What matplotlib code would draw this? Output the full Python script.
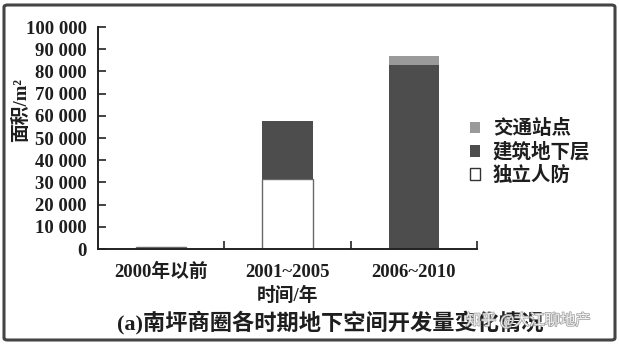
import matplotlib
matplotlib.use("Agg")
import matplotlib.pyplot as plt
import matplotlib.patheffects as pe
from matplotlib.patches import FancyBboxPatch, Patch
import numpy as np

# data (m^2)
periods = ["2000年以前", "2001~2005", "2006~2010"]
civil_defense = [800, 31500, 0]        # 独立人防
building_basement = [0, 26200, 83000]  # 建筑地下层
transit_station = [0, 0, 4000]         # 交通站点
yticks = list(range(0, 100001, 10000))
ytick_labels = ["0" if v == 0 else f"{v // 1000} 000" for v in yticks]

FONT = ["Liberation Serif", "Noto Sans CJK SC", "DejaVu Sans"]
TEXT_COLOR = "#1e1e1e"
DARK = "#4d4d4d"
LIGHT = "#9a9a9a"

plt.rcParams["font.family"] = FONT

W, H = 619, 345
fig = plt.figure(figsize=(W / 100, H / 100), dpi=100)
ax = fig.add_axes([98 / W, 1 - 249 / H, (477 - 98) / W, (249 - 27) / H])

x = np.arange(len(periods))
width = 0.4
civil = np.array(civil_defense)
base = np.array(building_basement)
trans = np.array(transit_station)

ax.bar(x, civil, width, color="white", edgecolor="#6a6a6a", linewidth=1.0)
ax.bar(x, base, width, bottom=civil, color=DARK, edgecolor="none")
ax.bar(x, trans, width, bottom=civil + base, color=LIGHT, edgecolor="none")

ax.set_xlim(-0.5, 2.5)
ax.set_ylim(0, 100000)
ax.set_yticks(yticks)
ax.set_yticklabels(ytick_labels, fontsize=13.5, fontweight="bold", color=TEXT_COLOR)
ax.tick_params(axis="y", direction="in", length=6, width=1.2, pad=8, color="#222222")

ax.set_xticks([0.5, 1.5, 2.5])
ax.set_xticklabels([])
ax.tick_params(axis="x", direction="in", length=6, width=1.2, color="#222222")
for xi, name in zip(x, periods):
    ax.text(xi, -0.105, name, transform=ax.get_xaxis_transform(), ha="center", va="center",
            fontsize=13.5, fontweight="bold", color=TEXT_COLOR)

for side in ("top", "right"):
    ax.spines[side].set_visible(False)
for side in ("left", "bottom"):
    ax.spines[side].set_linewidth(1.4)
    ax.spines[side].set_color("#222222")

fig.text(21 / W, 1 - 110 / H, "面积/m²", rotation=90, ha="center", va="center",
         fontsize=13.5, fontweight="bold", color=TEXT_COLOR)
fig.text(288 / W, 1 - 296 / H, "时间/年", ha="center", va="center",
         fontsize=13.5, fontweight="bold", color=TEXT_COLOR)
fig.text(330 / W, 1 - 323 / H, "(a)南坪商圈各时期地下空间开发量变化情况", ha="center", va="center",
         fontsize=16, fontweight="bold", color=TEXT_COLOR)

handles = [
    Patch(facecolor=LIGHT, edgecolor="none", label="交通站点"),
    Patch(facecolor=DARK, edgecolor="none", label="建筑地下层"),
    Patch(facecolor="white", edgecolor="#333333", linewidth=1.0, label="独立人防"),
]
fig.legend(handles=handles, loc="center left", bbox_to_anchor=(452 / W, 1 - 152 / H),
           frameon=False, handlelength=0.55, handleheight=0.55,
           handletextpad=0.65, labelspacing=0.2, labelcolor=TEXT_COLOR,
           prop={"family": FONT, "size": 14, "weight": "bold"})

# watermark
fig.text(528 / W, 1 - 320 / H, "知乎 @大江聊地产", ha="center", va="center",
         fontsize=11, color="white", alpha=0.85,
         path_effects=[pe.withStroke(linewidth=1.2, foreground="#999999")])

# frame around the whole picture
frame = FancyBboxPatch((4 / W, 5 / H), (611 / W), (335 / H),
                       boxstyle="round,pad=0,rounding_size=0.006",
                       transform=fig.transFigure, fill=False,
                       edgecolor="#444444", linewidth=2.2)
fig.patches.append(frame)

fig.savefig("out.png", dpi=100)
